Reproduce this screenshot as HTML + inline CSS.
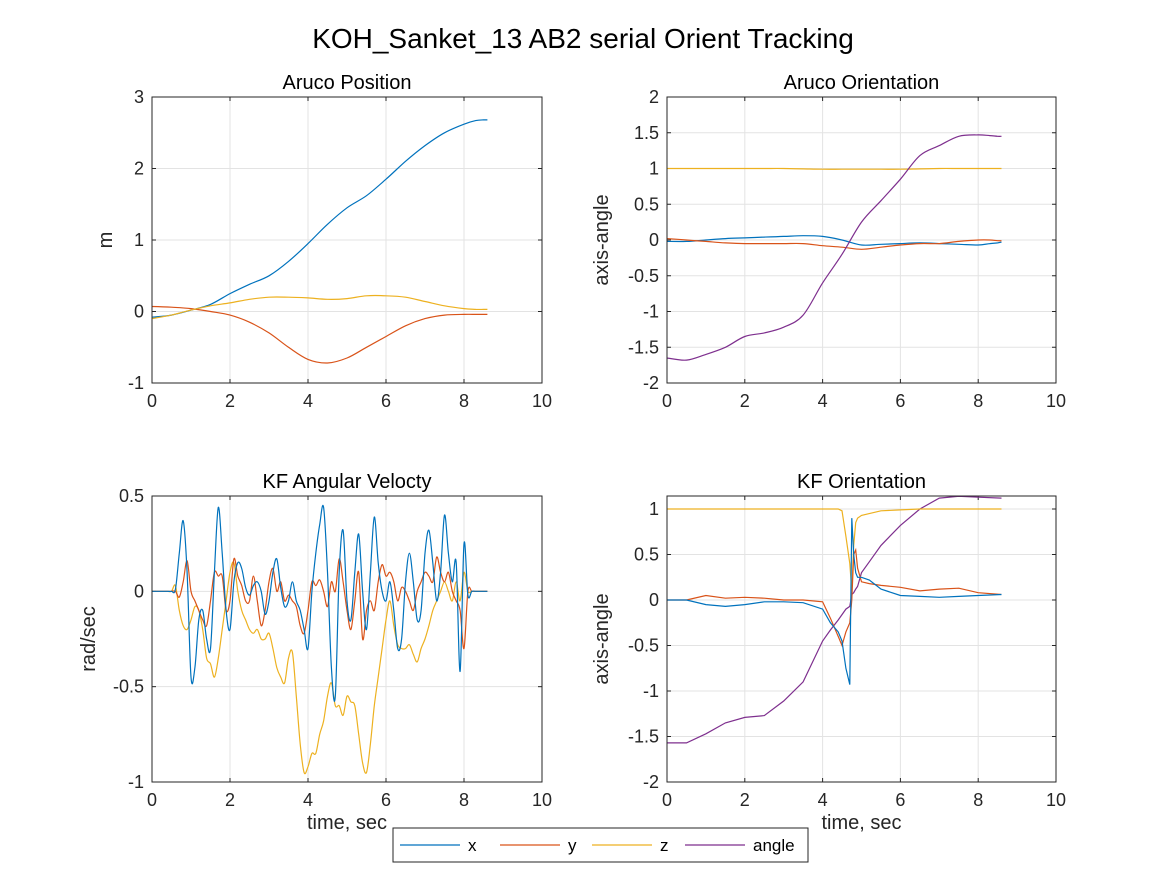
<!DOCTYPE html>
<html><head><meta charset="utf-8"><style>
body{margin:0;background:#fff;}
svg{display:block;font-family:"Liberation Sans",sans-serif;}
</style></head><body>
<svg id="fig" width="1167" height="875">
<rect width="1167" height="875" fill="#fff"/>
<text x="583" y="48" font-size="28" text-anchor="middle">KOH_Sanket_13 AB2 serial Orient Tracking</text>
</svg>
<script>
const tPos=[0,0.5,1,1.5,2,2.5,3,3.5,4,4.5,5,5.5,6,6.5,7,7.5,8,8.3,8.5,8.6];
const posX=[-0.08,-0.05,0.02,0.1,0.25,0.38,0.5,0.7,0.95,1.22,1.45,1.62,1.85,2.1,2.32,2.5,2.62,2.67,2.68,2.68];
const posY=[0.07,0.06,0.04,0.0,-0.05,-0.15,-0.3,-0.5,-0.67,-0.72,-0.65,-0.5,-0.35,-0.2,-0.1,-0.05,-0.04,-0.04,-0.04,-0.04];
const posZ=[-0.1,-0.05,0.02,0.08,0.12,0.17,0.2,0.2,0.19,0.17,0.18,0.22,0.22,0.2,0.14,0.08,0.04,0.03,0.03,0.03];
const oriX=[-0.02,-0.02,0,0.02,0.03,0.04,0.05,0.06,0.05,0.0,-0.07,-0.06,-0.05,-0.04,-0.05,-0.06,-0.07,-0.05,-0.04,-0.03];
const oriY=[0.02,0.0,-0.02,-0.04,-0.05,-0.05,-0.05,-0.05,-0.08,-0.1,-0.13,-0.1,-0.07,-0.05,-0.05,-0.02,0.0,0.0,-0.01,-0.01];
const oriZ=[1,1,1,1,1,1,1,0.995,0.99,0.99,0.99,0.99,0.99,0.995,1,1,1,1,1,1];
const oriA=[-1.65,-1.68,-1.6,-1.5,-1.35,-1.3,-1.22,-1.05,-0.6,-0.2,0.25,0.55,0.85,1.18,1.32,1.45,1.47,1.46,1.45,1.45];
const velX=[0,0,0,0,0,0,0.01,0.2,0.37,0.1,-0.45,-0.4,-0.15,-0.1,-0.25,-0.3,0.1,0.44,0.2,-0.1,-0.2,0.05,0.15,0.12,0.02,-0.02,0.03,0.05,0,-0.12,-0.05,0.1,0.17,0.02,-0.08,-0.05,0.05,-0.05,-0.1,-0.2,-0.3,0,0.2,0.35,0.44,0.1,-0.4,-0.55,0.1,0.32,-0.05,-0.15,0.1,0.3,0,-0.2,0.1,0.39,0.15,0,-0.05,0.05,-0.1,-0.3,-0.25,0.05,0.2,0.05,-0.15,-0.1,0.2,0.32,0.15,-0.05,0.1,0.4,0.2,0.05,0.15,-0.42,0.25,-0.02,0,0,0,0,0];
const velY=[0,0,0,0,0,0,0,-0.03,0.05,0.16,0,-0.05,-0.1,-0.15,-0.18,-0.05,0.1,0.08,0.08,-0.1,-0.05,0.17,0.08,0.03,-0.05,-0.05,0.08,-0.05,-0.18,-0.1,0.05,0.12,0,0.05,-0.05,-0.02,-0.05,-0.08,-0.18,-0.22,-0.1,0.05,0.03,0.06,0,-0.08,0.05,0,0.17,0.05,-0.1,-0.2,-0.05,0.1,-0.25,-0.1,-0.05,-0.1,0.05,0.14,0.08,0.1,0.05,-0.05,0.02,0,-0.05,-0.1,0,0.05,0.1,0.08,0.05,0.18,0.1,0.05,0.1,0,-0.05,-0.1,-0.3,0,0,0,0,0,0];
const velZ=[0,0,0,0,0,0,0.03,-0.1,-0.18,-0.2,-0.15,-0.08,-0.1,-0.2,-0.35,-0.38,-0.45,-0.35,-0.2,-0.05,0.1,0.15,0,-0.1,-0.15,-0.2,-0.22,-0.2,-0.25,-0.25,-0.22,-0.3,-0.4,-0.45,-0.48,-0.35,-0.32,-0.55,-0.8,-0.95,-0.92,-0.85,-0.85,-0.75,-0.68,-0.55,-0.48,-0.6,-0.6,-0.65,-0.55,-0.58,-0.6,-0.75,-0.9,-0.95,-0.8,-0.6,-0.45,-0.3,-0.15,-0.05,-0.18,-0.28,-0.3,-0.3,-0.28,-0.33,-0.37,-0.3,-0.25,-0.18,-0.1,-0.05,0,0.05,0,-0.05,0.05,-0.05,0.1,0,0,0,0,0,0];
const tKF=[0,0.5,1,1.5,2,2.5,3,3.5,4,4.2,4.4,4.5,4.6,4.7,4.75,4.8,4.85,4.9,5.0,5.2,5.5,6,6.5,7,7.5,8,8.6];
const kfA=[-1.57,-1.57,-1.47,-1.35,-1.29,-1.27,-1.11,-0.9,-0.45,-0.33,-0.22,-0.16,-0.1,-0.07,0.06,0.08,0.12,0.15,0.3,0.42,0.6,0.82,1.0,1.12,1.14,1.13,1.12];
const kfZ=[1,1,1,1,1,1,1,1,1,1,1,0.98,0.7,0.4,0.1,0.6,0.85,0.9,0.93,0.95,0.98,0.99,1,1,1,1,1];
const kfX=[0,0,-0.05,-0.07,-0.05,-0.02,-0.02,-0.03,-0.1,-0.25,-0.35,-0.45,-0.75,-0.93,0.9,0.5,0.3,0.25,0.25,0.22,0.12,0.05,0.04,0.03,0.04,0.05,0.06];
const kfY=[0,0,0.05,0.02,0.03,0.02,0,0,-0.02,-0.2,-0.4,-0.5,-0.35,-0.25,0,0.5,0.55,0.35,0.2,0.18,0.16,0.14,0.1,0.12,0.13,0.08,0.06];
const tVel=velX.map((_,i)=>i*0.1);
const xTicks=[0,2,4,6,8,10];
const C={x:'#0072BD',y:'#D95319',z:'#EDB120',a:'#7E2F8E'};
const NS='http://www.w3.org/2000/svg';
const svg=document.getElementById('fig');
function mk(tag,attrs,parent){const e=document.createElementNS(NS,tag);for(const k in attrs)e.setAttribute(k,attrs[k]);(parent||svg).appendChild(e);return e;}
function smoothPath(P){
  let d='M'+P[0][0].toFixed(1)+' '+P[0][1].toFixed(1);
  for(let i=0;i<P.length-1;i++){
    const p0=P[Math.max(0,i-1)],p1=P[i],p2=P[i+1],p3=P[Math.min(P.length-1,i+2)];
    const c1=[p1[0]+(p2[0]-p0[0])/6,p1[1]+(p2[1]-p0[1])/6];
    const c2=[p2[0]-(p3[0]-p1[0])/6,p2[1]-(p3[1]-p1[1])/6];
    d+='C'+c1.map(v=>v.toFixed(1)).join(' ')+' '+c2.map(v=>v.toFixed(1)).join(' ')+' '+p2[0].toFixed(1)+' '+p2[1].toFixed(1);
  }
  return d;
}
function panel(o){
  const g=mk('g',{});
  
  
  const L=o.L,R=o.R,T=o.T,B=o.B;
  const sx=v=>L+(v-0)/10*(R-L);
  const sy=v=>B-(v-o.ymin)/(o.ymax-o.ymin)*(B-T);
  for(const t of xTicks){mk('line',{x1:sx(t),x2:sx(t),y1:T,y2:B,stroke:'#e3e3e3'},g);
    const tx=mk('text',{x:sx(t),y:B+24,'font-size':18,'text-anchor':'middle',fill:'#262626'},g);tx.textContent=t;
    
    
    mk('line',{x1:sx(t),x2:sx(t),y1:B,y2:B-4,stroke:'#262626'},g);mk('line',{x1:sx(t),x2:sx(t),y1:T,y2:T+4,stroke:'#262626'},g);}
  for(const v of o.yt){mk('line',{x1:L,x2:R,y1:sy(v),y2:sy(v),stroke:'#e3e3e3'},g);
    const ty=mk('text',{x:L-8,y:sy(v)+6,'font-size':18,'text-anchor':'end',fill:'#262626'},g);ty.textContent=v;
    
    
    mk('line',{x1:L,x2:L+4,y1:sy(v),y2:sy(v),stroke:'#262626'},g);mk('line',{x1:R,x2:R-4,y1:sy(v),y2:sy(v),stroke:'#262626'},g);}
  const cid='c'+o.name;
  const cp=mk('clipPath',{id:cid},g);mk('rect',{x:L,y:T,width:R-L,height:B-T},cp);
  for(const s of o.series){
    const P=s.v.map((v,i)=>[sx(s.t[i]),sy(v)]);
    const d=o.smooth?smoothPath(P):P.map((p,i)=>(i?'L':'M')+p[0].toFixed(1)+' '+p[1].toFixed(1)).join('');
    const p=mk('path',{d:d,fill:'none',stroke:s.c,'stroke-width':1.2,'clip-path':'url(#'+cid+')'},g);
    
    
  }
  mk('rect',{x:L,y:T,width:R-L,height:B-T,fill:'none',stroke:'#262626','stroke-width':1},g);
  const ti=mk('text',{x:(L+R)/2,y:T-8,'font-size':20,'text-anchor':'middle',fill:'#000'},g);ti.textContent=o.title;
  
  
  const yl=mk('text',{x:0,y:0,'font-size':20,'text-anchor':'middle',fill:'#262626',transform:`translate(${o.ylx},${(T+B)/2}) rotate(-90)`},g);yl.textContent=o.ylabel;
  
  
  if(o.xlabel){const xl=mk('text',{x:(L+R)/2,y:B+47,'font-size':20,'text-anchor':'middle',fill:'#262626'},g);xl.textContent=o.xlabel;
    
    }
}
panel({name:'aruco-position',smooth:true,L:152,R:542,T:97,B:383,ymin:-1,ymax:3,yt:[-1,0,1,2,3],title:'Aruco Position',ylabel:'m',ylx:112,
 series:[{t:tPos,v:posX,c:C.x,n:'pos-x-line'},{t:tPos,v:posY,c:C.y,n:'pos-y-line'},{t:tPos,v:posZ,c:C.z,n:'pos-z-line'}]});
panel({name:'aruco-orientation',smooth:true,L:667,R:1056,T:97,B:383,ymin:-2,ymax:2,yt:[-2,-1.5,-1,-0.5,0,0.5,1,1.5,2],title:'Aruco Orientation',ylabel:'axis-angle',ylx:608,
 series:[{t:tPos,v:oriX,c:C.x,n:'ori-x-line'},{t:tPos,v:oriY,c:C.y,n:'ori-y-line'},{t:tPos,v:oriZ,c:C.z,n:'ori-z-line'},{t:tPos,v:oriA,c:C.a,n:'ori-angle-line'}]});
panel({name:'kf-angular-velocity',smooth:true,L:152,R:542,T:496,B:782,ymin:-1,ymax:0.5,yt:[-1,-0.5,0,0.5],title:'KF Angular Velocty',ylabel:'rad/sec',ylx:95,xlabel:'time, sec',
 series:[{t:tVel,v:velZ,c:C.z,n:'vel-z-line'},{t:tVel,v:velY,c:C.y,n:'vel-y-line'},{t:tVel,v:velX,c:C.x,n:'vel-x-line'}]});
panel({name:'kf-orientation',smooth:false,L:667,R:1056,T:496,B:782,ymin:-2,ymax:1.143,yt:[-2,-1.5,-1,-0.5,0,0.5,1],title:'KF Orientation',ylabel:'axis-angle',ylx:608,xlabel:'time, sec',
 series:[{t:tKF,v:kfA,c:C.a,n:'kf-angle-line'},{t:tKF,v:kfZ,c:C.z,n:'kf-z-line'},{t:tKF,v:kfY,c:C.y,n:'kf-y-line'},{t:tKF,v:kfX,c:C.x,n:'kf-x-line'}]});
const lg=mk('g',{});


mk('rect',{x:393,y:828,width:415,height:34,fill:'#fff',stroke:'#262626'},lg);
const ents=[['x',C.x,400],['y',C.y,500],['z',C.z,592],['angle',C.a,685]];
for(const [n,c,x] of ents){
  const e=mk('g',{},lg);
  
  
  mk('line',{x1:x,x2:x+60,y1:845,y2:845,stroke:c,'stroke-width':1.2},e);
  const t=mk('text',{x:x+68,y:851,'font-size':17,fill:'#000'},e);t.textContent=n;
}
</script>
</body></html>
